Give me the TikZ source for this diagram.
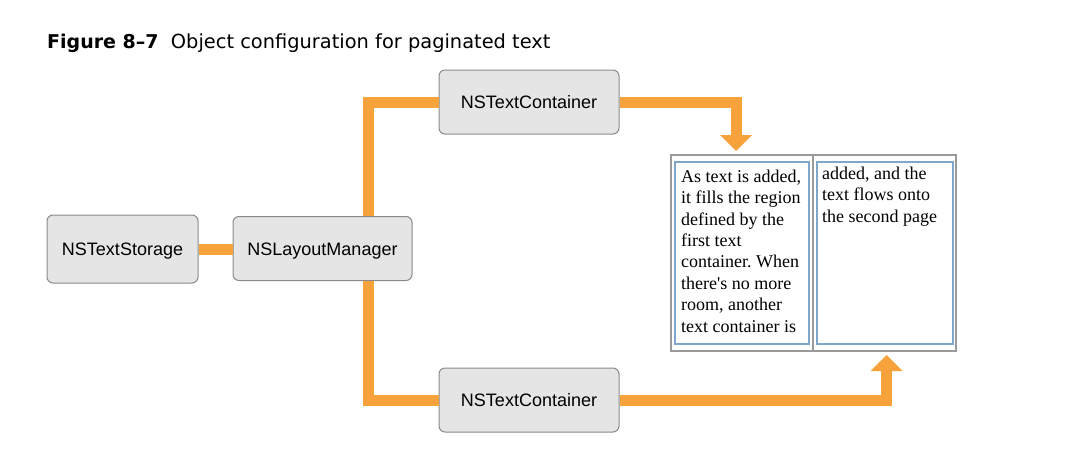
\documentclass[tikz,border=0pt]{standalone}
\usepackage{fontspec}
\setmainfont{Liberation Sans}
\newfontfamily\titlefont{DejaVu Sans}
\newfontfamily\boxfont{Liberation Sans}
\newfontfamily\pagefont{Liberation Serif}
\usetikzlibrary{calc}
\definecolor{orng}{HTML}{F7A23A}
\definecolor{boxfill}{HTML}{E4E5E4}
\definecolor{boxline}{HTML}{8A8A8A}
\definecolor{pageline}{HTML}{9A9A9A}
\definecolor{innerblue}{HTML}{7FA7CC}
\tikzset{
  objbox/.style={draw=boxline, fill=boxfill, line width=1pt, rounded corners=6pt,
    font=\boxfont\fontsize{18}{20}\selectfont, inner sep=0pt, text height=13pt, text depth=0pt},
  conn/.style={draw=orng, line width=11pt, line join=miter},
  headtip/.style={fill=orng},
  pagetext/.style={anchor=north west, inner sep=0pt, align=left,
    font=\pagefont\fontsize{18}{21.4}\selectfont\frenchspacing},
}
\begin{document}
\begin{tikzpicture}[x=1pt,y=-1pt]
\useasboundingbox (0,0) rectangle (1081,461);
% title
\node[anchor=base west, inner sep=0pt, font=\titlefont\fontsize{19}{21}\selectfont]
  (title) at (47,48.5) {\textbf{Figure 8–7}\hspace{0.65em}{\fontsize{19.4}{21}\selectfont Object configuration for paginated text}};
% boxes
\node[objbox, minimum width=151pt, minimum height=68pt] (ts) at (122.5,249) {NSTextStorage};
\node[objbox, minimum width=179pt, minimum height=64pt] (lm) at (322.5,248.5) {NSLayoutManager};
\node[objbox, minimum width=180pt, minimum height=64pt] (tc1) at (529,102) {NSTextContainer};
\node[objbox, minimum width=180pt, minimum height=64pt] (tc2) at (529,400) {NSTextContainer};
% page
\node[draw=pageline, line width=1.5pt, minimum width=285pt, minimum height=196pt, inner sep=0pt] (pg) at (813.5,253) {};
\draw[pageline, line width=1.5pt] (pg.north -| 813,0) -- (pg.south -| 813,0);
\node[draw=innerblue, line width=1.5pt, minimum width=134pt, minimum height=182pt, inner sep=0pt] (p1) at (742,253) {};
\node[draw=innerblue, line width=1.5pt, minimum width=136pt, minimum height=182pt, inner sep=0pt] (p2) at (885,253) {};
\node[pagetext] (t1) at (681,168) {\rule{0pt}{14pt}As text is added,\\it fills the region\\defined by the\\first text\\container. When\\there\textquotesingle s no more\\room, another\\text container is};
\node[pagetext] (t2) at (822,165) {\rule{0pt}{14pt}added, and the\\text flows onto\\the second page};
% connectors
\coordinate (jx) at (368.5,0);
\coordinate (a1) at (736,135);
\coordinate (a2) at (886.5,371);
\draw[conn] (ts.east) -- (ts.east -| lm.west);
\draw[conn] (lm.north -| jx) |- (tc1.west);
\draw[conn] (lm.south -| jx) |- (tc2.west);
\draw[conn] (tc1.east) -| (a1);
\draw[conn] (tc2.east) -| (a2);
\fill[headtip] ($(a1)+(-16,0)$) -- ($(a1)+(16,0)$) -- ($(a1)+(0,16)$) -- cycle;
\fill[headtip] ($(a2)+(-16,0)$) -- ($(a2)+(16,0)$) -- ($(a2)+(0,-16)$) -- cycle;
\end{tikzpicture}
\end{document}
